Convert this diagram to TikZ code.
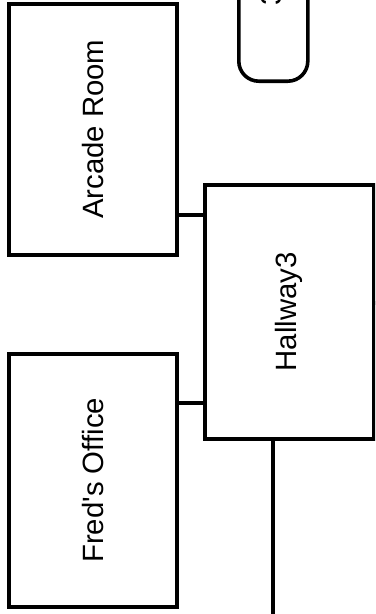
\documentclass[tikz,border=0pt]{standalone}
\usepackage{fontspec}
\setmainfont{Liberation Sans}
\begin{document}
\begin{tikzpicture}[x=0.75pt,y=-0.75pt,
  room/.style={draw=black, line width=2.7pt, fill=white, inner sep=0pt},
  label/.style={rotate=90, font=\fontsize{22}{26}\selectfont},
  link/.style={draw=black, line width=2.7pt}]
\useasboundingbox (0,0) rectangle (375,614);
\clip (0,0) rectangle (375,614);
% rooms (sizes in pt = px * 0.75)
\node[room, minimum width=126pt, minimum height=188.25pt, anchor=north west] (arcade) at (7,2) {};
\node[label] at (arcade.center) {Arcade Room};
\node[room, minimum width=126pt, minimum height=189.75pt, anchor=north west] (fred) at (7,352) {};
\node[label] at (fred.center) {Fred\textquotesingle s Office};
\node[room, minimum width=126.75pt, minimum height=190.5pt, anchor=north west] (hall) at (203,183) {};
\node[label] at (hall.center) {Hallway3};
\node[room, rounded corners=15pt, minimum width=51.75pt, minimum height=150pt, anchor=south west] (top) at (237,83) {};
\node[label, anchor=west, inner sep=0pt] (toplabel) at (271.5,6) {3};
% connectors
\coordinate (a1) at (arcade.east |- 0,215);
\coordinate (h1) at (hall.west |- 0,215);
\coordinate (f1) at (fred.east |- 0,403);
\coordinate (h2) at (hall.west |- 0,403);
\coordinate (hb) at (273,437);
\coordinate (down) at (273,620);
\coordinate (hr) at (372,303);
\coordinate (right) at (380,303);
\draw[link] (a1) -- (h1);
\draw[link] (f1) -- (h2);
\draw[link] (hb) -- (down);
\draw[link] (hr) -- (right);
\end{tikzpicture}
\end{document}
